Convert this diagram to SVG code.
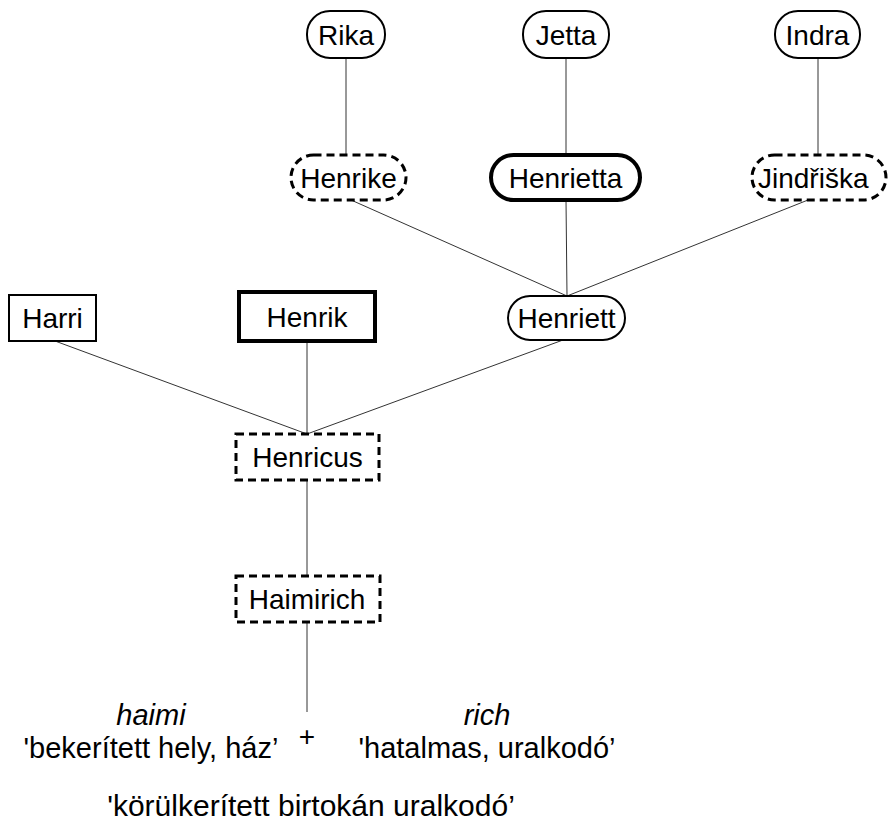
<svg xmlns="http://www.w3.org/2000/svg" width="889" height="828" viewBox="0 0 889 828">
<style>
.n{fill:#fff;stroke:#000;stroke-width:2}
.thick{stroke-width:4}
.dash{stroke-width:3;stroke-dasharray:8 5}
text{font-family:"Liberation Sans",Arial,sans-serif;font-size:28px;fill:#000}
.c{text-anchor:middle}
.i{font-style:italic}
.b{font-size:29px}
#connectors line{stroke:#333;stroke-width:1}
</style>
<rect width="889" height="828" fill="#fff"/>
<g id="connectors">
<line x1="346" y1="58" x2="346" y2="155"/>
<line x1="566" y1="58" x2="566" y2="155"/>
<line x1="818" y1="58" x2="818" y2="155"/>
<line x1="351" y1="200" x2="567" y2="296"/>
<line x1="566" y1="200" x2="567" y2="296"/>
<line x1="808" y1="200" x2="567" y2="296"/>
<line x1="55" y1="341" x2="307" y2="434"/>
<line x1="307" y1="341" x2="307" y2="434"/>
<line x1="563" y1="340" x2="307" y2="434"/>
<line x1="307" y1="480" x2="307" y2="576"/>
<line x1="307" y1="622" x2="307" y2="712"/>
</g>
<g id="rika"><rect class="n" x="307" y="11" width="78" height="47" rx="23"/><text class="c" x="346" y="44.5">Rika</text></g>
<g id="jetta"><rect class="n" x="523" y="11" width="86" height="47" rx="23"/><text class="c" x="566" y="44.5">Jetta</text></g>
<g id="indra"><rect class="n" x="775" y="11" width="85" height="47" rx="23"/><text class="c" x="817.5" y="44.5">Indra</text></g>
<g id="henrike"><rect class="n dash" x="291" y="155" width="115" height="45" rx="22.5"/><text class="c" x="348.5" y="187.5">Henrike</text></g>
<g id="henrietta"><rect class="n thick" x="491" y="155" width="149" height="45" rx="22.5"/><text class="c" x="565.5" y="187.5">Henrietta</text></g>
<g id="jindriska"><rect class="n dash" x="752" y="155" width="134" height="45" rx="22.5"/><text x="758" y="187.5">Jindřiška</text></g>
<g id="henriett"><rect class="n" x="508" y="296" width="117" height="44" rx="22"/><text class="c" x="566.5" y="328">Henriett</text></g>
<g id="harri"><rect class="n" x="9" y="295" width="87" height="46"/><text class="c" x="52.5" y="328">Harri</text></g>
<g id="henrik"><rect class="n thick" x="239" y="292" width="136" height="49"/><text class="c" x="307" y="326.5">Henrik</text></g>
<g id="henricus"><rect class="n dash" x="236" y="434" width="143" height="46"/><text class="c" x="307.5" y="467">Henricus</text></g>
<g id="haimirich"><rect class="n dash" x="236" y="576" width="144" height="46"/><text class="c" x="307" y="609">Haimirich</text></g>
<g id="etymology">
<text class="c i b" x="151" y="725">haimi</text>
<text class="c b" x="151" y="758">'bekerített hely, ház’</text>
<text class="c" x="307" y="746">+</text>
<text class="c i b" x="487" y="725">rich</text>
<text class="c b" x="487" y="758">'hatalmas, uralkodó’</text>
<text class="c" x="311" y="816" style="font-size:30px">'körülkerített birtokán uralkodó’</text>
</g>
</svg>
